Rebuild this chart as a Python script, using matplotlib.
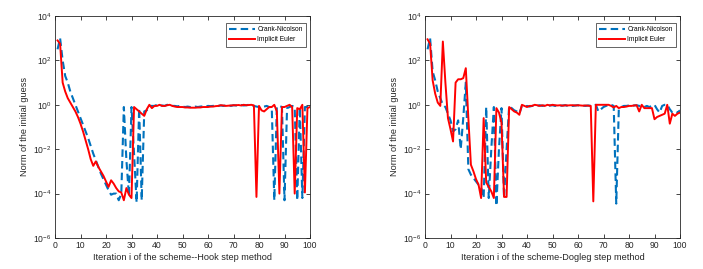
import numpy as np
import matplotlib
matplotlib.use("Agg")
import matplotlib.pyplot as plt
from matplotlib.ticker import NullLocator, FixedLocator

plt.rcParams['font.family'] = ['Liberation Sans', 'DejaVu Sans']
plt.rcParams['mathtext.fontset'] = 'custom'
plt.rcParams['mathtext.rm'] = 'Liberation Sans'
plt.rcParams['mathtext.it'] = 'Liberation Sans:italic'

iterations = list(range(1, 101))

# log10 of "Norm of the initial guess" per iteration
hook_cn_log = [2.5, 3.0, 2.0, 1.3, 1.0, 0.6, 0.3, 0.0, -0.3, -0.6,
               -0.9, -1.2, -1.5, -1.85, -2.2, -2.5, -2.8, -3.1, -3.35, -3.6,
               -3.85, -4.05, -4.0, -4.0, -4.3, -4.0, -0.1, -2.5, -4.1, -0.1,
               -2.2, -4.4, -0.15, -4.3, -0.3, -0.25, -0.05, -0.05, -0.05, 0.0,
               -0.05, -0.03, -0.05, 0.0, -0.02, -0.05, -0.05, -0.07, -0.05, -0.08,
               -0.1, -0.08, -0.1, -0.1, -0.08, -0.1, -0.08, -0.07, -0.08, -0.05,
               -0.06, -0.05, -0.04, -0.05, -0.03, -0.05, -0.03, -0.02, -0.05, -0.02,
               -0.03, -0.02, -0.01, -0.03, -0.02, 0.0, -0.03, -0.05, -0.08, -0.1,
               -0.1, -0.08, -0.05, -0.1, -0.1, -4.3, -0.1, -0.05, -0.1, -4.3,
               -0.15, -0.1, -0.05, -0.1, -4.3, -0.1, -4.2, -0.1, -0.1, -0.1]

hook_ie_log = [2.9, 2.75, 1.0, 0.6, 0.3, 0.1, -0.1, -0.3, -0.55, -0.85,
               -1.2, -1.6, -2.0, -2.45, -2.75, -2.55, -2.8, -3.0, -3.2, -3.45,
               -3.7, -3.4, -3.55, -3.75, -3.9, -3.95, -4.3, -3.75, -4.05, -4.2,
               -0.1, -0.2, -0.3, -0.4, -0.5, -0.2, 0.0, -0.15, -0.05, -0.05,
               0.0, -0.05, -0.05, -0.02, 0.0, -0.05, -0.08, -0.1, -0.1, -0.1,
               -0.12, -0.12, -0.13, -0.13, -0.13, -0.12, -0.12, -0.1, -0.1, -0.1,
               -0.08, -0.08, -0.06, -0.05, -0.02, -0.03, -0.05, -0.04, -0.03, -0.02,
               -0.02, -0.01, -0.03, 0.0, -0.02, -0.01, 0.0, -0.03, -4.15, -0.05,
               -0.25, -0.3, -0.2, -0.1, -0.1, 0.0, -0.3, -4.0, -0.1, -0.1,
               -0.05, 0.0, -0.1, -4.0, -0.15, -0.2, 0.0, -3.95, -0.15, -0.1]

dogleg_cn_log = [2.5, 3.0, 1.5, 1.1, 0.6, 0.3, 0.0, -0.1, -0.4, -0.7,
                 -1.2, -1.1, -0.7, -2.0, -0.6, 1.0, -2.9, -3.15, -3.3, -3.45,
                 -3.6, -3.7, -4.2, -0.1, -4.2, -2.0, -0.1, -4.55, -2.0, -0.15,
                 -4.2, -2.0, -0.05, -0.15, -0.25, -0.3, -0.4, -0.05, -0.1, -0.05,
                 -0.08, -0.05, -0.03, -0.05, -0.02, -0.05, -0.03, -0.05, -0.03, -0.02,
                 -0.05, -0.03, -0.05, -0.03, -0.02, -0.05, -0.03, -0.05, -0.03, -0.02,
                 -0.05, -0.04, -0.05, -0.03, -0.05, -0.03, 0.0, -0.3, -0.2, -0.1,
                 -0.05, 0.0, 0.0, -0.05, -4.45, -0.2, -0.1, -0.05, -0.05, -0.03,
                 -0.05, -0.03, -0.02, -0.05, -0.05, -0.1, -0.05, -0.1, -0.05, 0.0,
                 -0.2, -0.35, -0.05, 0.0, 0.0, -0.2, -0.35, -0.3, -0.35, -0.25]

dogleg_ie_log = [2.95, 2.75, 1.1, 0.5, 0.1, -0.05, 2.85, 1.0, -0.6, -1.1,
                 -1.65, 1.0, 1.15, 1.15, 1.2, 1.65, -0.6, -2.7, -3.0, -3.35,
                 -3.6, -4.2, -0.6, -3.5, -3.7, -3.9, -4.2, -0.15, -0.35, -0.8,
                 -4.15, -4.15, -0.1, -0.2, -0.3, -0.35, -0.45, 0.0, -0.05, -0.1,
                 -0.05, -0.05, 0.0, -0.02, -0.05, -0.02, -0.05, 0.0, -0.03, 0.0,
                 -0.02, -0.03, -0.02, -0.04, -0.02, -0.03, -0.02, -0.02, -0.03, -0.02,
                 -0.03, -0.04, -0.03, -0.04, -0.05, -4.35, 0.0, 0.0, 0.0, 0.0,
                 0.0, 0.0, -0.05, -0.12, -0.05, -0.15, -0.1, -0.1, -0.08, -0.05,
                 -0.05, -0.03, -0.02, -0.3, 0.0, -0.15, -0.15, -0.15, -0.15, -0.65,
                 -0.55, -0.5, -0.45, -0.4, 0.0, -0.85, -0.4, -0.5, -0.4, -0.35]

panels = [
    ("Iteration i of the scheme--Hook step method", hook_cn_log, hook_ie_log),
    ("Iteration i of the scheme-Dogleg step method", dogleg_cn_log, dogleg_ie_log),
]
series_names = ["Crank-Nicolson", "Implicit Euler"]
x_ticks = [0, 10, 20, 30, 40, 50, 60, 70, 80, 90, 100]
y_ticks = [1e-6, 1e-4, 1e-2, 1e0, 1e2, 1e4]

W, H = 703, 269
fig = plt.figure(figsize=(W / 100, H / 100), dpi=100)

lefts = [55, 425]
for (xlabel, cn, ie), lpx in zip(panels, lefts):
    ax = fig.add_axes([lpx / W, 1 - 238 / H, 255 / W, 222 / H])
    x = np.array(iterations)
    ax.semilogy(x, 10.0 ** np.array(cn), linestyle=(0, (3.6, 2.0)), color='#0072BD',
                linewidth=1.5, label=series_names[0])
    ax.semilogy(x, 10.0 ** np.array(ie), linestyle='-', color='#FF0000',
                linewidth=1.4, label=series_names[1])
    ax.set_xlim(0, 100)
    ax.set_ylim(1e-6, 1e4)
    ax.xaxis.set_major_locator(FixedLocator(x_ticks))
    ax.yaxis.set_major_locator(FixedLocator(y_ticks))
    ax.yaxis.set_minor_locator(NullLocator())
    ax.xaxis.set_minor_locator(NullLocator())
    ax.tick_params(direction='in', length=3, width=0.6, labelsize=6.2,
                   top=True, right=True, colors='#262626', pad=2.5)
    for s in ax.spines.values():
        s.set_linewidth(0.6)
        s.set_color('#262626')
    ax.set_xlabel(xlabel, fontsize=6.6, color='#262626', labelpad=2)
    ax.set_ylabel("Norm of the initial guess", fontsize=6.6, color='#262626', labelpad=3)
    leg = ax.legend(loc='upper right', bbox_to_anchor=(0.984, 0.970), fontsize=4.8,
                    handlelength=3.8, handletextpad=0.4, borderpad=0.5,
                    labelspacing=0.5, fancybox=False, framealpha=1,
                    borderaxespad=0)
    leg.get_frame().set_edgecolor('#262626')
    leg.get_frame().set_linewidth(0.5)

fig.savefig("out.png", dpi=100)
